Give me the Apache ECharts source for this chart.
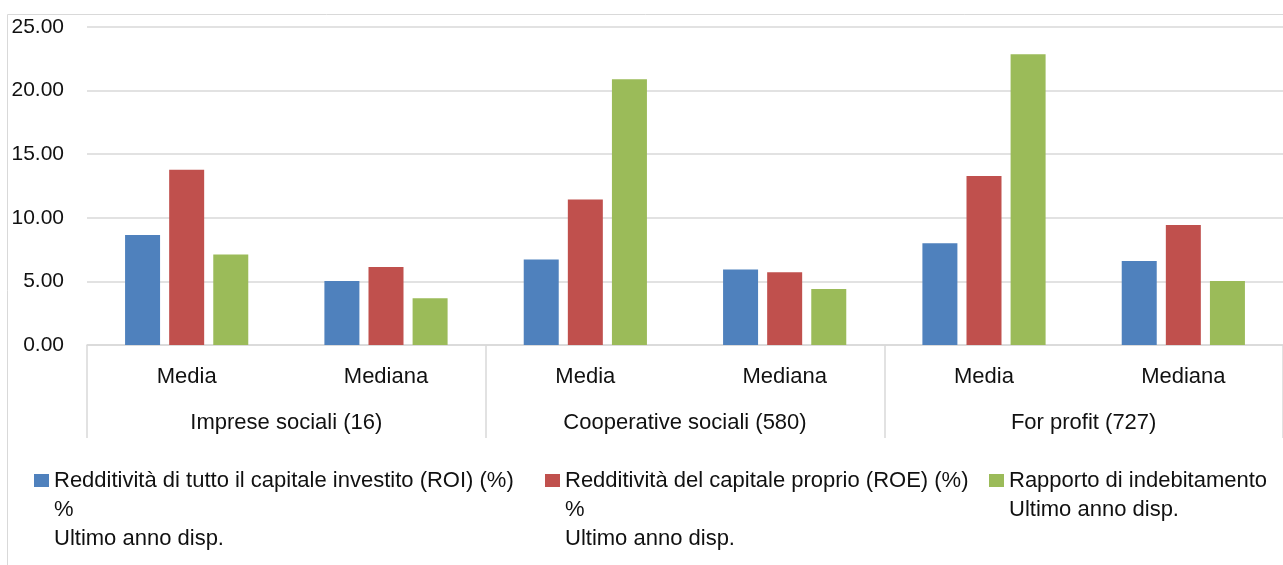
<!DOCTYPE html>
<html>
<head>
<meta charset="utf-8">
<script src="https://cdn.jsdelivr.net/npm/echarts@6/dist/echarts.min.js"></script>
<style>
body { margin: 0; background: #fff; }
#main { width: 1283px; height: 565px; }
</style>
</head>
<body>
<div id="main"></div>
<script>
// dati
var categories = ['Media', 'Mediana', 'Media', 'Mediana', 'Media', 'Mediana'];
var groups = ['Imprese sociali (16)', 'Cooperative sociali (580)', 'For profit (727)'];
var yTicks = [0, 5, 10, 15, 20, 25];

var nameROI = 'Redditività di tutto il capitale investito (ROI) (%)\n%\nUltimo anno disp.';
var nameROE = 'Redditività del capitale proprio (ROE) (%)\n%\nUltimo anno disp.';
var nameDebt = 'Rapporto di indebitamento\nUltimo anno disp.';

var roi = [8.64, 5.03, 6.73, 5.94, 7.99, 6.60];
var roe = [13.77, 6.13, 11.44, 5.71, 13.28, 9.43];
var debt = [7.12, 3.67, 20.90, 4.40, 22.86, 5.03];

var font = '"Liberation Sans", Arial, sans-serif';
var gridColor = '#d9d9d9';

var myChart = echarts.init(document.getElementById('main'));

// una legenda per voce, cosi' la prima riga resta allineata al quadratino
function legendFor(name, left, top) {
    return {
        data: [name],
        left: left,
        top: top,
        padding: 0,
        icon: 'rect',
        itemWidth: 15,
        itemHeight: 13,
        itemGap: 6,
        selectedMode: false,
        formatter: function (n) {
            var extra = n.split('\n').length - 1;
            var pre = '';
            for (var i = 0; i < extra; i++) pre += ' \n';
            return pre + n;
        },
        textStyle: {
            fontFamily: font,
            fontSize: 22,
            color: '#111',
            lineHeight: 29
        }
    };
}

myChart.setOption({
    animation: false,
    color: ['#4F81BD', '#C0504D', '#9BBB59'],
    graphic: [{
        type: 'rect',
        left: 5,
        top: 12,
        shape: { width: 1400, height: 700 },
        style: { fill: 'none', stroke: gridColor, lineWidth: 1 },
        silent: true
    }],
    grid: {
        left: 87,
        top: 27,
        right: -9,
        bottom: 220
    },
    legend: [
        legendFor(nameROI, 34, 408),
        legendFor(nameROE, 545, 408),
        legendFor(nameDebt, 989, 437)
    ],
    xAxis: [{
        type: 'category',
        data: categories,
        axisLine: { lineStyle: { color: gridColor, width: 1.5 } },
        axisTick: { show: false },
        axisLabel: {
            margin: 21,
            fontFamily: font,
            fontSize: 22,
            color: '#111',
            interval: 0
        }
    }, {
        type: 'category',
        data: groups,
        position: 'bottom',
        axisLine: { show: false },
        axisTick: {
            show: true,
            length: 93,
            lineStyle: { color: gridColor, width: 1.5 }
        },
        axisLabel: {
            margin: 67,
            fontFamily: font,
            fontSize: 22,
            color: '#111',
            interval: 0
        }
    }],
    yAxis: {
        type: 'value',
        min: yTicks[0],
        max: yTicks[yTicks.length - 1],
        interval: 5,
        axisLine: { show: false },
        axisTick: { show: false },
        splitLine: { lineStyle: { color: gridColor, width: 1.5 } },
        axisLabel: {
            margin: 23,
            fontFamily: font,
            fontSize: 21,
            color: '#111',
            formatter: function (v) { return v.toFixed(2); }
        }
    },
    series: [
        { name: nameROI, type: 'bar', data: roi, barWidth: 35, barGap: '26%' },
        { name: nameROE, type: 'bar', data: roe, barWidth: 35, barGap: '26%' },
        { name: nameDebt, type: 'bar', data: debt, barWidth: 35, barGap: '26%' }
    ]
});
</script>
</body>
</html>
